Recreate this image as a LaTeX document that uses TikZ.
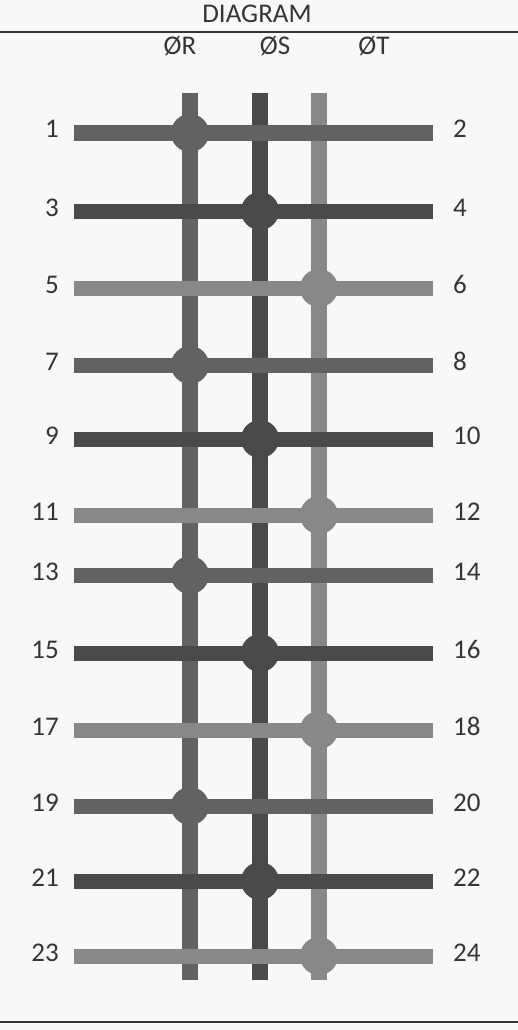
\documentclass[tikz,border=0pt]{standalone}
\usepackage{fontspec}
\setmainfont{Carlito}
\definecolor{phR}{HTML}{626262}
\definecolor{phS}{HTML}{4A4A4A}
\definecolor{phT}{HTML}{888888}
\definecolor{txt}{HTML}{353535}
\definecolor{paper}{HTML}{F8F8FA}
\begin{document}
\begin{tikzpicture}[x=1pt,y=-1pt,
  lbl/.style={font=\fontsize{27}{32}\selectfont, text=txt, inner sep=0pt},
  rule/.style={draw=txt, line width=1.4pt},
  phase/.style={line width=16pt},
  wire/.style={line width=15pt},
  dot/.style={radius=19pt}]
\useasboundingbox (0,0) rectangle (518,1030);
\fill[paper] (0,0) rectangle (518,1030);
% title and rules
\node[lbl, anchor=base] (title) at (257,23) {DIAGRAM};
\coordinate (rt-l) at (0,32);   \coordinate (rt-r) at (518,32);
\coordinate (rb-l) at (0,1022); \coordinate (rb-r) at (518,1022);
\draw[rule] (rt-l) -- (rt-r);
\draw[rule] (rb-l) -- (rb-r);
% phase labels
\node[lbl, anchor=base] (lR) at (180,55) {ØR};
\node[lbl, anchor=base] (lS) at (275,55) {ØS};
\node[lbl, anchor=base] (lT) at (374,55) {ØT};
% phase bars
\foreach \p/\x in {R/190, S/260, T/319}{
  \coordinate (\p-top) at (\x,93);
  \coordinate (\p-bot) at (\x,980);
  \draw[phase, draw=ph\p] (\p-top) -- (\p-bot);
}
% wires
\foreach \y/\a/\b/\p [count=\i] in {133/1/2/R, 211/3/4/S, 288/5/6/T, 365/7/8/R,
    439/9/10/S, 515/11/12/T, 575/13/14/R, 653/15/16/S, 730/17/18/T,
    806/19/20/R, 881/21/22/S, 956/23/24/T}{
  \coordinate (h\i-l) at (74,\y);
  \coordinate (h\i-r) at (433,\y);
  \draw[wire, draw=ph\p] (h\i-l) -- (h\i-r);
  \fill[ph\p] (\p-top |- h\i-l) circle[dot];
  \node[lbl, anchor=base east] (n\a) at (59,\y+5) {\a};
  \node[lbl, anchor=base west] (n\b) at (453,\y+5) {\b};
}
\end{tikzpicture}
\end{document}
